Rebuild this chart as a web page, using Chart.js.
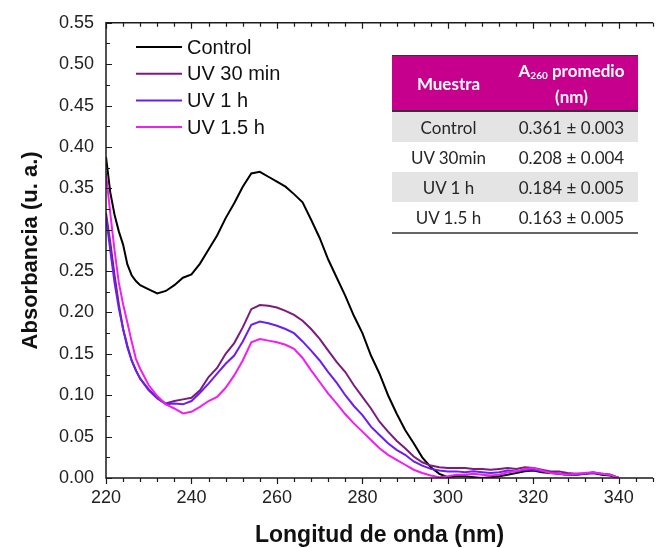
<!DOCTYPE html>
<html>
<head>
<meta charset="utf-8">
<script src="https://cdn.jsdelivr.net/npm/chart.js@4.4.1/dist/chart.umd.min.js"></script>
<style>
  html, body { margin: 0; padding: 0; background: #fff; }
  #wrap { position: relative; width: 662px; height: 548px; }
  #summary {
    position: absolute; left: 392px; top: 55px; width: 246px;
    border-collapse: collapse; font-family: Lato, "Open Sans", sans-serif;
    font-size: 17px; color: #262626; text-align: center;
  }
  #summary th {
    background: #c6008c; color: #fff; font-weight: bold; height: 54px;
    padding: 0; line-height: 21px; border-top: 1px solid #333; border-bottom: 2px solid #333;
  }
  #summary th sub { font-size: 10px; vertical-align: -2px; }
  #summary td { height: 30px; padding: 0; }
  #summary tbody tr:nth-child(odd) td { background: #e4e4e4; }
  #summary tbody tr:last-child td { border-bottom: 2px solid #666; }
</style>
</head>
<body>
<div id="wrap">
  <canvas id="spectra" width="662" height="548"></canvas>
  <table id="summary">
    <colgroup><col style="width:113px"><col style="width:133px"></colgroup>
    <thead><tr><th>Muestra</th><th>A<sub>260</sub> promedio<br>(nm)</th></tr></thead>
    <tbody id="summaryRows"></tbody>
  </table>
</div>
<script>
// wavelength grid (nm)
const wavelengths = [220, 221, 222, 223, 224, 225, 226, 227, 228, 230, 232, 234, 236, 238, 240, 242,
  244, 246, 248, 250, 252, 254, 256, 258, 260, 262, 264, 266, 268, 270, 272, 274, 276, 278, 280, 282,
  284, 286, 288, 290, 292, 294, 296, 298, 300, 302, 304, 306, 308, 310, 312, 314, 316, 318, 320, 322,
  324, 326, 328, 330, 332, 334, 336, 338, 340];

const controlAbs = [0.388, 0.345, 0.318, 0.298, 0.282, 0.258, 0.245, 0.238, 0.233, 0.228, 0.223, 0.226,
  0.233, 0.242, 0.246, 0.259, 0.276, 0.293, 0.314, 0.332, 0.352, 0.368, 0.370, 0.364, 0.358, 0.352,
  0.343, 0.333, 0.312, 0.290, 0.264, 0.242, 0.220, 0.196, 0.175, 0.148, 0.126, 0.100, 0.078, 0.058,
  0.042, 0.025, 0.013, 0.005, 0.001, 0.002, 0.002, 0.001, 0.000, 0.001, 0.002, 0.004, 0.006, 0.008,
  0.009, 0.007, 0.006, 0.005, 0.004, 0.004, 0.005, 0.006, 0.004, 0.003, 0.000];

const uv30Abs = [0.320, 0.285, 0.245, 0.210, 0.180, 0.158, 0.142, 0.130, 0.120, 0.107, 0.097, 0.090,
  0.093, 0.095, 0.097, 0.106, 0.122, 0.133, 0.150, 0.163, 0.182, 0.204, 0.209, 0.208, 0.206, 0.202,
  0.197, 0.190, 0.180, 0.168, 0.154, 0.140, 0.128, 0.112, 0.098, 0.084, 0.068, 0.056, 0.045, 0.036,
  0.026, 0.019, 0.015, 0.013, 0.012, 0.012, 0.012, 0.011, 0.011, 0.010, 0.011, 0.012, 0.011, 0.013,
  0.012, 0.010, 0.008, 0.008, 0.006, 0.005, 0.005, 0.007, 0.005, 0.004, 0.000];

const uv1hAbs = [0.316, 0.275, 0.236, 0.205, 0.180, 0.160, 0.142, 0.130, 0.120, 0.106, 0.096, 0.089,
  0.090, 0.089, 0.093, 0.103, 0.114, 0.126, 0.138, 0.148, 0.165, 0.185, 0.189, 0.187, 0.184, 0.180,
  0.175, 0.165, 0.154, 0.142, 0.128, 0.115, 0.100, 0.087, 0.076, 0.062, 0.052, 0.042, 0.034, 0.028,
  0.020, 0.015, 0.011, 0.009, 0.008, 0.008, 0.007, 0.008, 0.007, 0.006, 0.007, 0.009, 0.008, 0.010,
  0.010, 0.008, 0.007, 0.005, 0.004, 0.004, 0.005, 0.006, 0.005, 0.004, 0.000];

const uv15hAbs = [0.368, 0.320, 0.275, 0.236, 0.210, 0.188, 0.165, 0.144, 0.132, 0.112, 0.099, 0.089,
  0.084, 0.078, 0.080, 0.086, 0.093, 0.098, 0.109, 0.124, 0.142, 0.164, 0.168, 0.166, 0.164, 0.161,
  0.156, 0.145, 0.130, 0.116, 0.102, 0.090, 0.077, 0.066, 0.056, 0.046, 0.036, 0.028, 0.022, 0.016,
  0.010, 0.006, 0.003, 0.001, 0.002, 0.004, 0.004, 0.005, 0.004, 0.003, 0.004, 0.007, 0.008, 0.011,
  0.012, 0.009, 0.006, 0.005, 0.004, 0.005, 0.006, 0.007, 0.005, 0.004, 0.000];

// summary table
const sampleNames = ["Control", "UV 30min", "UV 1 h", "UV 1.5 h"];
const a260Means = ["0.361", "0.208", "0.184", "0.163"];
const a260Errors = ["0.003", "0.004", "0.005", "0.005"];

const fontFamily = "'Liberation Sans', Arial, sans-serif";

function toPoints(values) {
  return wavelengths.map((w, i) => ({ x: w, y: values[i] }));
}

function isMajorX(v) {
  return Math.round(v) % 20 === 0;
}

function isMajorY(v) {
  return Math.round(v * 1000) % 50 === 0;
}

function renderTable() {
  document.getElementById("summaryRows").innerHTML = sampleNames
    .map((name, i) => `<tr><td>${name}</td><td>${a260Means[i]} ± ${a260Errors[i]}</td></tr>`)
    .join("");
}

// axis lines with inward/outward ticks like the original plot
const framePlugin = {
  id: "frame",
  afterDatasetsDraw(chart) {
    const { ctx, chartArea: a, scales } = chart;
    const x = scales.x;
    const y = scales.y;
    ctx.save();
    ctx.strokeStyle = "#1a1a1a";
    ctx.lineWidth = 1.5;
    ctx.beginPath();
    ctx.moveTo(a.right, a.top);
    ctx.lineTo(a.left, a.top);
    ctx.lineTo(a.left, a.bottom);
    ctx.lineTo(a.right, a.bottom);
    ctx.stroke();

    ctx.lineWidth = 1.2;
    ctx.beginPath();
    y.ticks.forEach((t) => {
      const py = Math.round(y.getPixelForValue(t.value)) + 0.5;
      const len = isMajorY(t.value) ? 6 : 4;
      ctx.moveTo(a.left, py);
      ctx.lineTo(a.left + len, py);
    });
    x.ticks.forEach((t) => {
      const px = Math.round(x.getPixelForValue(t.value)) + 0.5;
      const len = isMajorX(t.value) ? 6 : 4;
      ctx.moveTo(px, a.bottom);
      ctx.lineTo(px, a.bottom + len);
      ctx.moveTo(px, a.top);
      ctx.lineTo(px, a.top + len);
    });
    ctx.stroke();
    ctx.restore();
  },
};

// legend drawn inside the plot area
const insideLegend = {
  id: "insideLegend",
  afterDraw(chart) {
    const { ctx } = chart;
    ctx.save();
    ctx.font = `20px ${fontFamily}`;
    ctx.textBaseline = "middle";
    chart.data.datasets.forEach((ds, i) => {
      const rowY = 47 + i * 26.7;
      ctx.strokeStyle = ds.borderColor;
      ctx.lineWidth = 2;
      ctx.beginPath();
      ctx.moveTo(136, rowY);
      ctx.lineTo(182, rowY);
      ctx.stroke();
      ctx.fillStyle = "#111";
      ctx.fillText(ds.label, 187, rowY + 1);
    });
    ctx.restore();
  },
};

function buildSpectraChart() {
  const series = [
    { label: "Control", values: controlAbs, color: "#000000" },
    { label: "UV 30 min", values: uv30Abs, color: "#7b1b7b" },
    { label: "UV 1 h", values: uv1hAbs, color: "#6a1ef0" },
    { label: "UV 1.5 h", values: uv15hAbs, color: "#f01ef0" },
  ];

  new Chart(document.getElementById("spectra"), {
    type: "line",
    data: {
      datasets: series.map((s, i) => ({
        label: s.label,
        data: toPoints(s.values),
        borderColor: s.color,
        borderWidth: 2,
        pointRadius: 0,
        tension: 0,
        order: 4 - i,
      })),
    },
    options: {
      responsive: false,
      animation: false,
      layout: { padding: { top: 19, right: 0, bottom: 0, left: 0 } },
      plugins: { legend: { display: false }, tooltip: { enabled: false } },
      scales: {
        x: {
          type: "linear",
          min: 220,
          max: 348,
          grid: { display: false, drawTicks: false },
          border: { display: false },
          ticks: {
            stepSize: 4,
            autoSkip: false,
            maxRotation: 0,
            includeBounds: false,
            padding: 9,
            color: "#222",
            font: { family: fontFamily, size: 18 },
            callback: (v) => (isMajorX(v) ? String(Math.round(v)) : ""),
          },
          title: {
            display: true,
            text: "Longitud de onda (nm)",
            color: "#111",
            font: { family: fontFamily, size: 23, weight: "bold" },
            padding: { top: 0, bottom: -1 },
          },
          afterFit: (s) => { s.height = 70; },
        },
        y: {
          min: 0,
          max: 0.55,
          grid: { display: false, drawTicks: false },
          border: { display: false },
          ticks: {
            stepSize: 0.025,
            autoSkip: false,
            padding: 12,
            color: "#222",
            font: { family: fontFamily, size: 18 },
            callback: (v) => (isMajorY(v) ? v.toFixed(2) : ""),
          },
          title: {
            display: true,
            text: "Absorbancia (u. a.)",
            color: "#111",
            font: { family: fontFamily, size: 22, weight: "bold" },
            padding: { top: 18, bottom: 0 },
          },
          afterFit: (s) => { s.width = 106; },
        },
      },
    },
    plugins: [framePlugin, insideLegend],
  });
}

renderTable();
buildSpectraChart();
</script>
</body>
</html>
